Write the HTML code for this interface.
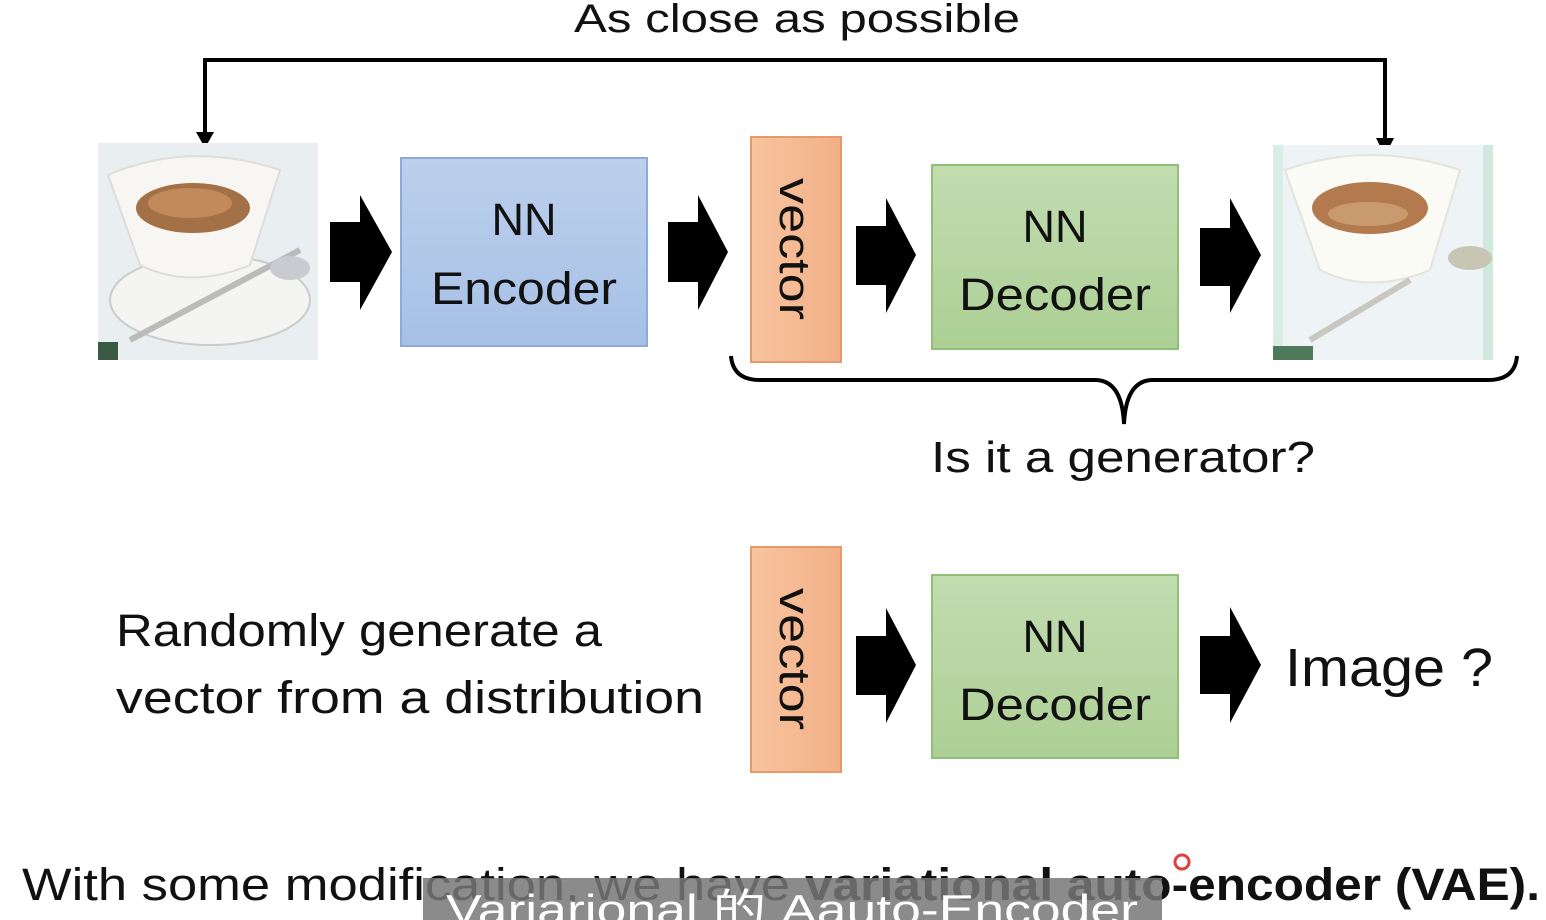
<!DOCTYPE html>
<html><head><meta charset="utf-8"><style>html,body{margin:0;padding:0;background:#fff}svg{display:block}</style></head>
<body>
<svg width="1546" height="920" viewBox="0 0 1546 920" xmlns="http://www.w3.org/2000/svg" font-family="Liberation Sans, Noto Sans CJK SC, sans-serif">
<defs>
<linearGradient id="gb" x1="0" y1="0" x2="0" y2="1"><stop offset="0" stop-color="#bcd0ec"/><stop offset="1" stop-color="#a6c0e6"/></linearGradient>
<linearGradient id="gg" x1="0" y1="0" x2="0" y2="1"><stop offset="0" stop-color="#c2dcb0"/><stop offset="1" stop-color="#acd095"/></linearGradient>
<linearGradient id="go" x1="0" y1="0" x2="1" y2="0"><stop offset="0" stop-color="#f8c4a0"/><stop offset="1" stop-color="#f2b086"/></linearGradient>
</defs>
<text x="797" y="32" font-size="40" text-anchor="middle" fill="#111" textLength="446" lengthAdjust="spacingAndGlyphs">As close as possible</text>
<polyline points="205,138 205,60 1385,60 1385,140" fill="none" stroke="#000" stroke-width="4"/>
<polygon points="196,132 214,132 205,148" fill="#000"/>
<polygon points="1376,138 1394,138 1385,156" fill="#000"/>

<g>
<rect x="98" y="143" width="220" height="217" fill="#e9eef0"/>
<ellipse cx="210" cy="300" rx="100" ry="45" fill="#f4f4f2" stroke="#ccc" stroke-width="2"/>
<path d="M108,175 Q190,140 280,170 L250,265 Q190,290 140,265 Z" fill="#f7f6f2" stroke="#ddd" stroke-width="2"/>
<ellipse cx="193" cy="208" rx="57" ry="25" fill="#a47046"/>
<ellipse cx="190" cy="203" rx="42" ry="15" fill="#c08a5a"/>
<path d="M130,340 L300,250" stroke="#bbb" stroke-width="6"/>
<ellipse cx="290" cy="268" rx="20" ry="12" fill="#c9cbd0"/>
<rect x="98" y="342" width="20" height="18" fill="#3a5a44"/>
</g>

<g fill="#000">
<polygon points="330,222 360,222 360,195 392,252 360,310 360,282 330,282"/>
<polygon points="668,222 698,222 698,195 728,252 698,310 698,282 668,282"/>
<polygon points="856,226 886,226 886,198 916,255 886,313 886,285 856,285"/>
<polygon points="1200,228 1230,228 1230,198 1261,255 1230,313 1230,286 1200,286"/>
<polygon points="856,636 886,636 886,608 916,665 886,723 886,695 856,695"/>
<polygon points="1200,636 1230,636 1230,607 1261,665 1230,723 1230,694 1200,694"/>
</g>

<rect x="401" y="158" width="246" height="188" fill="url(#gb)" stroke="#8eaadb" stroke-width="2"/>
<text x="524" y="235" font-size="45" text-anchor="middle" fill="#111">NN</text>
<text x="524" y="304" font-size="45" text-anchor="middle" fill="#111" textLength="186" lengthAdjust="spacingAndGlyphs">Encoder</text>

<rect x="751" y="137" width="90" height="225" fill="url(#go)" stroke="#e69a6c" stroke-width="2"/>
<text transform="translate(780,249) rotate(90)" font-size="44" text-anchor="middle" fill="#111" textLength="142" lengthAdjust="spacingAndGlyphs">vector</text>

<rect x="932" y="165" width="246" height="184" fill="url(#gg)" stroke="#92bf78" stroke-width="2"/>
<text x="1055" y="242" font-size="45" text-anchor="middle" fill="#111">NN</text>
<text x="1055" y="310" font-size="45" text-anchor="middle" fill="#111" textLength="192" lengthAdjust="spacingAndGlyphs">Decoder</text>

<g>
<rect x="1273" y="145" width="220" height="215" fill="#eef3f6"/>
<rect x="1273" y="145" width="10" height="215" fill="#d8ede4"/>
<rect x="1483" y="145" width="10" height="215" fill="#cfe9dc"/>
<path d="M1285,170 Q1370,140 1460,170 L1430,270 Q1370,295 1320,270 Z" fill="#fbfbf6" stroke="#e4e4dc" stroke-width="2"/>
<ellipse cx="1370" cy="208" rx="58" ry="26" fill="#b37a4e"/>
<ellipse cx="1368" cy="214" rx="40" ry="12" fill="#c99a70"/>
<path d="M1310,340 L1410,280" stroke="#c8c8c0" stroke-width="6"/>
<ellipse cx="1470" cy="258" rx="22" ry="12" fill="#c7c6b4"/>
<rect x="1273" y="346" width="40" height="14" fill="#4d7a58"/>
</g>

<path d="M731,356 Q733,380 760,380 L1095,380 Q1122,380 1124,424 Q1126,380 1153,380 L1488,380 Q1515,380 1517,356" fill="none" stroke="#000" stroke-width="4"/>
<text x="931" y="472" font-size="44" fill="#111" textLength="384" lengthAdjust="spacingAndGlyphs">Is it a generator?</text>

<text x="116" y="646" font-size="45" fill="#111" textLength="486" lengthAdjust="spacingAndGlyphs">Randomly generate a</text>
<text x="116" y="713" font-size="45" fill="#111" textLength="588" lengthAdjust="spacingAndGlyphs">vector from a distribution</text>

<rect x="751" y="547" width="90" height="225" fill="url(#go)" stroke="#e69a6c" stroke-width="2"/>
<text transform="translate(780,659) rotate(90)" font-size="44" text-anchor="middle" fill="#111" textLength="142" lengthAdjust="spacingAndGlyphs">vector</text>

<rect x="932" y="575" width="246" height="183" fill="url(#gg)" stroke="#92bf78" stroke-width="2"/>
<text x="1055" y="652" font-size="45" text-anchor="middle" fill="#111">NN</text>
<text x="1055" y="720" font-size="45" text-anchor="middle" fill="#111" textLength="192" lengthAdjust="spacingAndGlyphs">Decoder</text>

<text x="1285" y="686" font-size="54" fill="#111" textLength="208" lengthAdjust="spacingAndGlyphs">Image ?</text>

<text x="22" y="900" font-size="45" fill="#111" textLength="768" lengthAdjust="spacingAndGlyphs">With some modification, we have</text>
<text x="805" y="900" font-size="45" font-weight="bold" fill="#111" textLength="735" lengthAdjust="spacingAndGlyphs">variational auto-encoder (VAE).</text>
<circle cx="1182" cy="862" r="7" fill="none" stroke="#e0403a" stroke-width="3"/>
<rect x="423" y="878" width="739" height="42" fill="#777" fill-opacity="0.85"/>
<text x="792" y="924" font-size="42" text-anchor="middle" fill="#fff" textLength="692" lengthAdjust="spacingAndGlyphs">Variarional 的 Aauto-Encoder</text>
</svg>
</body></html>
